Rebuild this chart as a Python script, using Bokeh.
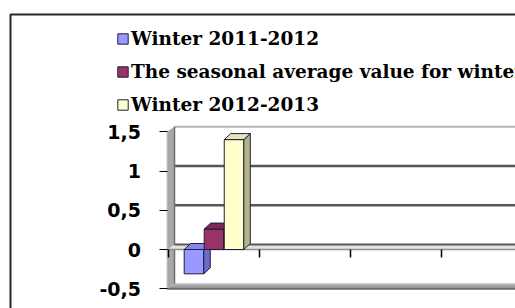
from bokeh.plotting import figure
from bokeh.models import (Range1d, FixedTicker, CustomJSTickFormatter, Legend,
                          LegendItem, BoxAnnotation)
from bokeh.embed import file_html
from bokeh.resources import INLINE

# ---------------- data ----------------
series_names = ["Winter 2011-2012",
                "The seasonal average value for winter",
                "Winter 2012-2013"]
winter_2011_2012 = [-0.31]
seasonal_average = [0.26]
winter_2012_2013 = [1.40]
category_bounds = [0, 1, 2, 3]
y_ticks = [-0.5, 0, 0.5, 1, 1.5]
y_tick_labels = ["-0,5", "0", "0,5", "1", "1,5"]

# ---------------- styles ----------------
front_colors = ["#9999FF", "#993366", "#FFFFCC"]
side_colors = ["#6A6AC8", "#6E2248", "#B4B48A"]
top_colors = ["#8686EE", "#7C2A55", "#E6E6B8"]
bar_line = "#1E1E3A"

W, H = 515, 308
PX_X, PX_Y = 91.0, 78.5          # pixels per category / per unit
ORIGIN_X, ORIGIN_Y = 168.0, 249.0  # pixel of (category 0, value 0)
x_rng = Range1d(-ORIGIN_X / PX_X, (W - ORIGIN_X) / PX_X)
y_rng = Range1d(-(H - ORIGIN_Y) / PX_Y, ORIGIN_Y / PX_Y)

p = figure(width=W, height=H, x_range=x_rng, y_range=y_rng,
           output_backend="svg", toolbar_location=None, title=None,
           x_axis_location=None, y_axis_location="left",
           min_border=0, min_border_left=0, min_border_top=0,
           min_border_right=0, min_border_bottom=0,
           background_fill_color="white", border_fill_color="white")
p.outline_line_color = None
for g in p.grid:
    g.visible = False

# 3D geometry (style constants)
wall_x = -1.5 / PX_X
dxw, dyw = 7.5 / PX_X, 5.0 / PX_Y
dxb, dyb = 6.5 / PX_X, 6.0 / PX_Y
x_end = x_rng.end + 1
y_lo, y_hi = y_ticks[0], y_ticks[-1]

# back wall top edge and gridlines
p.segment(x0=[wall_x + dxw], y0=[y_hi + dyw], x1=[x_end], y1=[y_hi + dyw],
          line_color="#B5B5B5", line_width=2)
inner = [t for t in y_ticks if y_lo < t < y_hi and t != 0]
p.segment(x0=[wall_x + dxw] * len(inner), y0=[t + dyw for t in inner],
          x1=[x_end] * len(inner), y1=[t + dyw for t in inner],
          line_color="#565656", line_width=2.5)

# floor at the axis minimum
p.patch(x=[wall_x, x_end, x_end, wall_x + dxw],
        y=[y_lo, y_lo, y_lo + dyw, y_lo + dyw],
        fill_color="#A3A3A3", line_color=None)
p.line(x=[wall_x + dxw, x_end], y=[y_lo + dyw, y_lo + dyw],
       line_color="#CFCFCF", line_width=1.5)
p.line(x=[wall_x, x_end], y=[y_lo, y_lo], line_color="#6B6B6B", line_width=2)

# left wall
p.patch(x=[wall_x, wall_x, wall_x + dxw, wall_x + dxw],
        y=[y_lo, y_hi, y_hi + dyw, y_lo + dyw],
        fill_color="#A8A8A8", line_color=None)
p.line(x=[wall_x + dxw, wall_x + dxw], y=[y_lo + dyw, y_hi + dyw],
       line_color="#6E6E6E", line_width=1.5)
p.line(x=[wall_x, wall_x], y=[y_lo, y_hi], line_color="#C8C8C8", line_width=1)

# zero plane
p.patch(x=[wall_x, x_end, x_end, wall_x + dxw], y=[0, 0, dyw, dyw],
        fill_color="#E2E2E2", line_color=None)
p.line(x=[wall_x + dxw, x_end], y=[dyw, dyw], line_color="#5A5A5A", line_width=2)
p.line(x=[wall_x, x_end], y=[0, 0], line_color="#8F8F8F", line_width=1.5)

# category tick marks
tick_len = 8.0 / PX_Y
p.segment(x0=category_bounds, y0=[0] * len(category_bounds),
          x1=category_bounds, y1=[-tick_len] * len(category_bounds),
          line_color="black", line_width=1.5)

# bars
series = [winter_2011_2012, seasonal_average, winter_2012_2013]
offsets = [-0.22, 0.0, 0.22]
bar_w = 0.215
front_renderers = []
for i, vals in enumerate(series):
    xs = [k + 0.5 + offsets[i] for k in range(len(vals))]
    tops = [max(v, 0) for v in vals]
    bots = [min(v, 0) for v in vals]
    r = p.vbar(x=xs, width=bar_w, top=tops, bottom=bots,
               fill_color=front_colors[i], line_color=bar_line, line_width=1)
    front_renderers.append(r)
    side_x, side_y, top_x, top_y = [], [], [], []
    for xc, t, b in zip(xs, tops, bots):
        xl, xr = xc - bar_w / 2, xc + bar_w / 2
        side_x.append([xr, xr + dxb, xr + dxb, xr])
        side_y.append([b, b + dyb, t + dyb, t])
        top_x.append([xl, xl + dxb, xr + dxb, xr])
        top_y.append([t, t + dyb, t + dyb, t])
    p.patches(xs=side_x, ys=side_y, fill_color=side_colors[i],
              line_color=bar_line, line_width=1)
    p.patches(xs=top_x, ys=top_y, fill_color=top_colors[i],
              line_color=bar_line, line_width=1)

# y axis, pinned to the front edge of the left wall
ax = p.yaxis[0]
ax.fixed_location = wall_x
ax.ticker = FixedTicker(ticks=y_ticks)
ax.formatter = CustomJSTickFormatter(
    args=dict(tick_vals=y_ticks, tick_texts=y_tick_labels),
    code="const i = tick_vals.findIndex((t) => Math.abs(t - tick) < 1e-9);"
         "return i >= 0 ? tick_texts[i] : '';")
ax.bounds = (y_lo, y_hi)
ax.axis_line_color = None
ax.major_tick_in = 0
ax.major_tick_out = 8
ax.major_tick_line_color = "black"
ax.major_tick_line_width = 1
ax.minor_tick_line_color = None
ax.major_label_standoff = 18
ax.major_label_text_font = "DejaVu Sans"
ax.major_label_text_font_style = "bold"
ax.major_label_text_font_size = "19px"
ax.major_label_text_color = "black"

# legend
legend = Legend(items=[LegendItem(label=n, renderers=[r])
                       for n, r in zip(series_names, front_renderers)],
                location=(116, 193), orientation="vertical",
                margin=0, padding=0, spacing=11,
                glyph_width=13, glyph_height=13, label_height=22,
                label_standoff=2,
                label_text_font="DejaVu Serif", label_text_font_style="bold",
                label_text_font_size="18.5px", label_text_color="black",
                background_fill_alpha=0, border_line_color=None)
p.add_layout(legend)

# outer chart border (extends beyond the visible page)
p.add_layout(BoxAnnotation(left=10, left_units="canvas", top=14, top_units="canvas",
                           right=3000, right_units="canvas",
                           bottom=3000, bottom_units="canvas",
                           fill_alpha=0, line_color="#262626", line_alpha=1.0,
                           line_width=2, level="underlay"))

open("out.html", "w").write(file_html(p, INLINE))
